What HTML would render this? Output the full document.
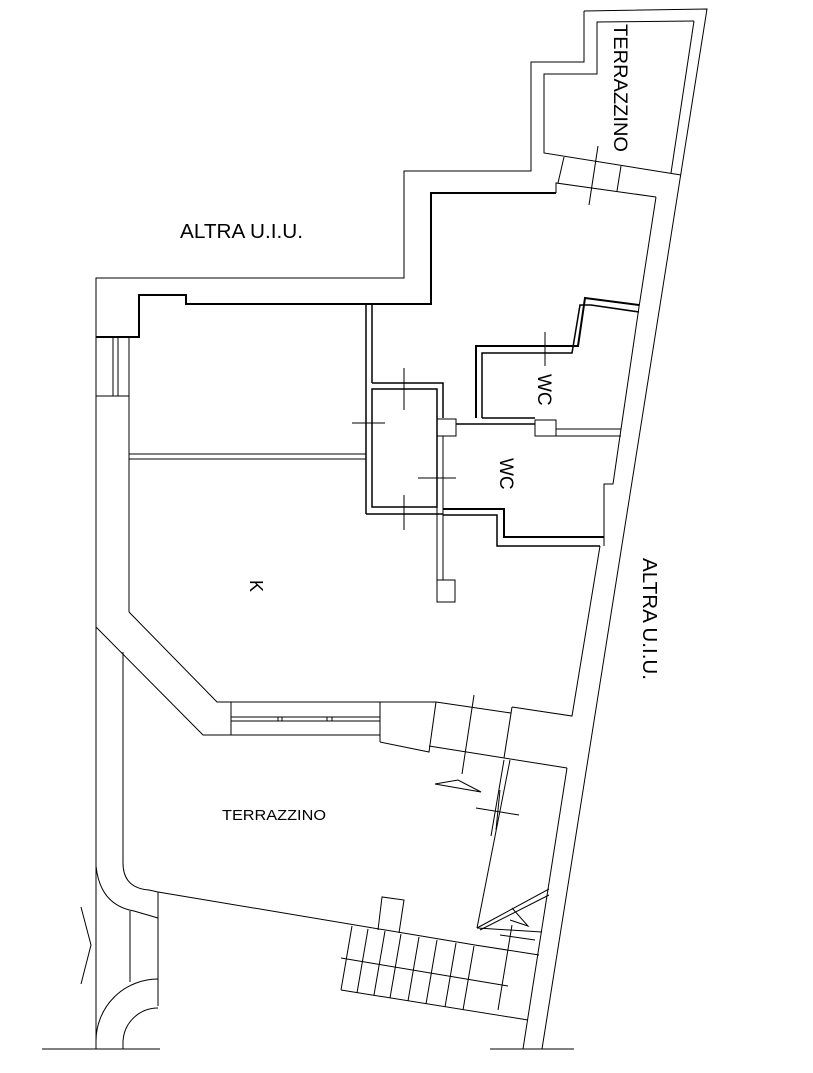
<!DOCTYPE html>
<html><head><meta charset="utf-8"><style>
html,body{margin:0;padding:0;background:#fff;}
svg{display:block;}
text{font-family:"Liberation Sans",sans-serif;fill:#000;}
</style></head><body>
<svg width="813" height="1073" viewBox="0 0 813 1073" xmlns="http://www.w3.org/2000/svg">
<g fill="none" stroke="#000" stroke-width="1">
<polyline points="584,11 707,9 542,1049"/>
<polyline points="584,11 584,62 531,62 531,171 404,171 404,278 96,278 96,866"/>
<polyline points="694,21 671,173"/>
<polyline points="694,21 597,22 597,74 544,74 544,153 681,175"/>
<polyline points="556,193 556,183 656,197"/>
<line x1="564" y1="157" x2="558" y2="183"/>
<line x1="621" y1="166" x2="617" y2="191"/>
<line x1="598" y1="146" x2="589" y2="205"/>
<polyline points="656,197 639,307"/>
<polyline points="639,307 621,429 613,484 604,484 604,546"/>
<polyline points="600,546 572,716 512,707"/>
<polyline stroke-width="2" points="556,193 431,193 431,304 186,304 186,295 139,295 139,337 96,337"/>
<line x1="96" y1="396" x2="129" y2="396"/>
<line x1="113" y1="337" x2="113" y2="396"/>
<line x1="118" y1="337" x2="118" y2="396"/>
<line x1="129" y1="337" x2="129" y2="612"/>
<line x1="129" y1="454" x2="366" y2="454"/>
<line x1="129" y1="459" x2="366" y2="459"/>
<line x1="366" y1="304" x2="366" y2="514" stroke-width="1.5"/>
<line x1="372" y1="304" x2="372" y2="383" stroke-width="1.5"/>
<polyline stroke-width="1.5" points="372,383 443,383 443,418"/>
<rect x="372" y="389" width="65" height="118" stroke-width="1.5"/>
<line x1="437" y1="436" x2="437" y2="580"/>
<line x1="443" y1="436" x2="443" y2="580"/>
<rect x="437" y="580" width="18" height="22"/>
<rect x="437" y="419" width="19" height="17"/>
<polyline stroke-width="1.5" points="366,514 443,514"/>
<polyline stroke-width="2" points="443,509 504,509 504,537 604,537"/>
<polyline stroke-width="1.5" points="443,515 497,515 497,546 600,546"/>
<polyline stroke-width="2" points="476,418 476,346 578,346 585,298 639,305"/>
<polyline stroke-width="1.5" points="482,418 482,353 572,353 580,305 591,305 639,312"/>
<line x1="482" y1="418" x2="535" y2="418" stroke-width="1.5"/>
<line x1="456" y1="424" x2="535" y2="424" stroke-width="1.5"/>
<rect x="535" y="420" width="21" height="16"/>
<line x1="556" y1="429" x2="621" y2="429"/>
<line x1="556" y1="436" x2="621" y2="436"/>
<line x1="404" y1="368" x2="404" y2="410"/>
<line x1="352" y1="423" x2="385" y2="423"/>
<line x1="437" y1="458" x2="437" y2="500"/>
<line x1="418" y1="478" x2="456" y2="478"/>
<line x1="404" y1="495" x2="404" y2="530"/>
<line x1="545" y1="332" x2="545" y2="366"/>
<polyline points="129,612 217,702 436,702"/>
<polyline points="96,627 203,735 380,735"/>
<line x1="231" y1="702" x2="231" y2="735"/>
<line x1="380" y1="702" x2="380" y2="742"/>
<line x1="231" y1="717" x2="380" y2="717"/>
<line x1="231" y1="721" x2="380" y2="721"/>
<line x1="278" y1="717" x2="278" y2="721"/><line x1="282" y1="717" x2="282" y2="721"/>
<line x1="327" y1="717" x2="327" y2="721"/><line x1="332" y1="717" x2="332" y2="721"/>
<polyline points="380,742 429,752 436,702"/>
<line x1="436" y1="702" x2="511" y2="713"/>
<line x1="512" y1="707" x2="504" y2="758"/>
<line x1="429" y1="746" x2="567" y2="768"/>
<line x1="474" y1="695" x2="462" y2="774"/>
<line x1="567" y1="768" x2="523" y2="1049"/>
<line x1="510" y1="760" x2="477" y2="928"/>
<line x1="504" y1="760" x2="491" y2="836"/>
<polygon points="435,784 458,780 481,792"/>
<line x1="476" y1="808" x2="519" y2="815"/>
<line x1="500" y1="790" x2="496" y2="830"/>
<path d="M123,652 L123,863 Q123,888 149,890 L158,892 L475,945"/>
<path d="M96,866 Q100,905 134,911 L158,918"/>
<line x1="158" y1="892" x2="158" y2="1006"/>
<line x1="130" y1="911" x2="130" y2="982"/>
<path d="M158,979 A62,62 0 0 0 96,1041"/>
<path d="M158,1008 A35,35 0 0 0 123,1041"/>
<line x1="96" y1="1041" x2="96" y2="1049"/>
<line x1="123" y1="1041" x2="123" y2="1049"/>
<line x1="96" y1="866" x2="96" y2="1049"/>
<line x1="42" y1="1049" x2="160" y2="1049"/>
<line x1="490" y1="1049" x2="574" y2="1049"/>
<polyline points="81,907 91,945 81,984"/>
<polyline points="378,930 382,897 404,900 399,933"/>
<line x1="352" y1="926" x2="341" y2="990"/>
<line x1="341" y1="990" x2="528" y2="1020"/>
<line x1="341" y1="958" x2="508" y2="986"/>
<line x1="368" y1="929" x2="357" y2="993"/>
<line x1="385" y1="931" x2="374" y2="995"/>
<line x1="401" y1="934" x2="390" y2="998"/>
<line x1="419" y1="937" x2="408" y2="1001"/>
<line x1="437" y1="940" x2="426" y2="1004"/>
<line x1="456" y1="943" x2="445" y2="1007"/>
<line x1="474" y1="946" x2="463" y2="1010"/>
<line x1="477" y1="928" x2="549" y2="889"/>
<line x1="480" y1="930" x2="549" y2="895"/>
<line x1="477" y1="928" x2="542" y2="932"/>
<line x1="475" y1="945" x2="539" y2="955"/>
<line x1="500" y1="935" x2="535" y2="940"/>
<polyline points="510,920 528,926 512,908"/>
<line x1="512" y1="925" x2="498" y2="1010"/>
</g>
<text x="180" y="238" font-size="20" textLength="123" lengthAdjust="spacingAndGlyphs">ALTRA U.I.U.</text>
<text x="222" y="820" font-size="15" textLength="104" lengthAdjust="spacingAndGlyphs">TERRAZZINO</text>
<text transform="translate(614,24) rotate(90)" font-size="19" textLength="128" lengthAdjust="spacingAndGlyphs">TERRAZZINO</text>
<text transform="translate(538,374) rotate(90)" font-size="19">WC</text>
<text transform="translate(500,458) rotate(90)" font-size="19">WC</text>
<text transform="translate(250,580) rotate(90)" font-size="18">K</text>
<text transform="translate(643,558) rotate(90)" font-size="20" textLength="122" lengthAdjust="spacingAndGlyphs">ALTRA U.I.U.</text>
</svg>
</body></html>
